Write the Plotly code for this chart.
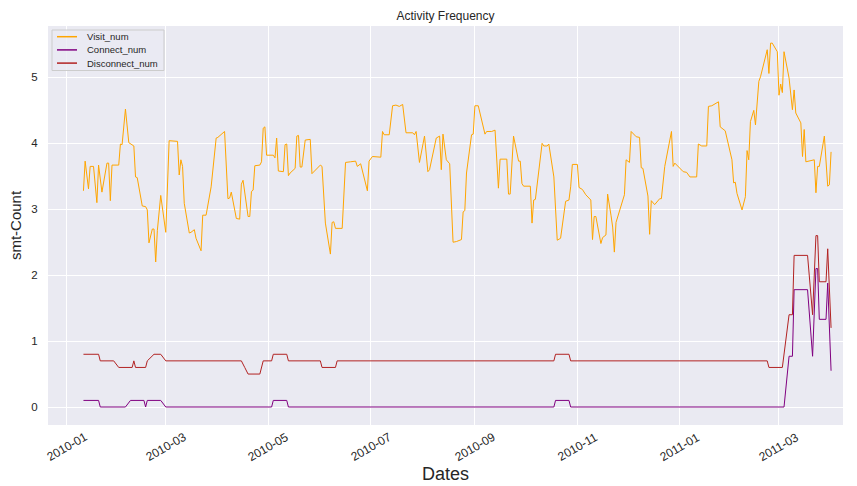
import pandas as pd
import plotly.graph_objects as go

# Day offsets (from 2010-01-01) and smoothed counts for each series
BASE_DATE = "2010-01-01"

visit_day = [10, 11, 13, 14, 16, 18, 19, 21, 24, 25, 26, 27, 31, 32, 33, 35, 37, 40, 41, 42,
             45, 47, 48, 49, 51, 52, 53, 54, 56, 59, 61, 66, 67, 68, 69, 70, 73, 74, 76, 77,
             80, 81, 83, 86, 89, 90, 94, 96, 97, 98, 101, 103, 104, 105, 108, 109, 110, 111, 112, 115,
             116, 117, 118, 119, 123, 124, 125, 126, 129, 130, 131, 132, 133, 136, 137, 138, 139, 140, 142, 145,
             146, 151, 152, 154, 157, 158, 159, 160, 164, 166, 169, 172, 173, 175, 179, 180, 182, 187, 188, 189,
             192, 194, 196, 198, 200, 202, 206, 207, 208, 210, 213, 215, 216, 220, 222, 223, 224, 226, 228, 230,
             232, 235, 236, 237, 238, 241, 242, 243, 245, 247, 249, 250, 253, 255, 257, 258, 262, 263, 264, 266,
             269, 270, 271, 272, 276, 277, 278, 279, 281, 283, 284, 286, 287, 290, 292, 294, 297, 299, 300, 301,
             304, 305, 307, 309, 312, 313, 314, 315, 318, 319, 321, 322, 324, 325, 326, 327, 332, 333, 335, 336,
             339, 341, 342, 343, 346, 347, 348, 350, 353, 354, 356, 360, 361, 362, 367, 369, 371, 375, 376, 378,
             381, 382, 384, 388, 389, 392, 396, 397, 398, 399, 402, 404, 405, 406, 407, 409, 410, 412, 413, 417,
             418, 419, 420, 423, 424, 425, 426, 427, 430, 432, 433, 434, 437, 438, 439, 440, 445, 446, 447, 448,
             451, 453, 454, 455]
visit_num = [3.28, 3.73, 3.31, 3.65, 3.65, 3.10, 3.67, 3.26, 3.70, 3.70, 3.13, 3.67, 3.67, 3.99, 3.98, 4.52, 4.01, 3.96, 3.49, 3.48,
             3.05, 3.04, 2.99, 2.49, 2.70, 2.70, 2.20, 2.68, 3.21, 2.65, 4.04, 4.03, 3.52, 3.75, 3.65, 3.09, 2.64, 2.65, 2.69, 2.56,
             2.37, 2.91, 2.91, 3.34, 4.08, 4.09, 4.18, 3.16, 3.17, 3.26, 2.86, 2.85, 3.38, 3.44, 2.89, 2.89, 3.27, 3.29, 3.66, 3.67,
             3.72, 4.23, 4.25, 3.82, 3.82, 3.78, 4.08, 3.58, 3.57, 3.98, 3.99, 3.51, 3.55, 3.62, 4.11, 4.12, 3.64, 3.64, 4.05, 4.06,
             3.54, 3.67, 3.65, 2.79, 2.32, 2.80, 2.81, 2.71, 2.71, 3.71, 3.72, 3.73, 3.65, 3.69, 3.28, 3.73, 3.80, 3.79, 4.18, 4.13,
             4.13, 4.57, 4.58, 4.56, 4.59, 4.16, 4.16, 4.13, 4.18, 3.71, 4.11, 3.57, 3.60, 4.08, 4.11, 3.60, 4.14, 3.75, 3.69, 2.50,
             2.51, 2.54, 2.96, 2.98, 3.55, 4.13, 4.14, 4.57, 4.57, 4.35, 4.14, 4.18, 4.18, 4.20, 3.32, 3.76, 3.76, 3.23, 3.23, 4.11,
             3.73, 3.73, 3.39, 3.35, 3.35, 2.79, 3.14, 3.15, 3.60, 4.00, 3.96, 3.96, 3.99, 3.49, 2.53, 2.56, 3.12, 3.14, 3.34, 3.68,
             3.68, 3.33, 3.30, 3.22, 3.14, 2.54, 2.89, 2.89, 2.48, 2.57, 2.61, 3.23, 2.91, 2.73, 2.35, 2.80, 3.22, 3.75, 3.71, 4.18,
             4.10, 4.09, 3.63, 3.62, 3.20, 2.62, 3.13, 3.07, 3.16, 3.16, 3.65, 4.18, 3.65, 3.70, 3.57, 3.56, 3.49, 3.49, 3.99, 3.96,
             3.96, 4.56, 4.57, 4.63, 4.25, 4.19, 3.75, 3.40, 3.41, 3.24, 2.99, 3.19, 3.89, 3.75, 4.33, 4.50, 4.28, 4.94, 5.01, 5.42,
             5.06, 5.52, 5.52, 5.39, 4.73, 4.90, 4.77, 5.39, 4.99, 4.51, 4.81, 4.46, 4.31, 3.80, 4.21, 3.72, 3.75, 3.25, 3.65, 3.65,
             4.11, 3.35, 3.37, 3.87]

connect_day = [10, 19, 20, 35, 38, 46, 47, 48, 56, 59, 122, 123, 131, 132, 290, 291, 299, 300,
               427, 430, 432, 433, 441, 444, 446, 447, 448, 452, 453, 455]
connect_num = [0.1, 0.1, 0.0, 0.0, 0.1, 0.1, 0.0, 0.1, 0.1, 0.0, 0.0, 0.1, 0.1, 0.0, 0.0, 0.1, 0.1, 0.0,
               0.0, 0.77, 0.77, 1.78, 1.78, 0.77, 2.1, 2.1, 1.33, 1.33, 1.88, 0.55]

disconnect_day = [10, 19, 20, 28, 31, 39, 40, 41, 47, 48, 52, 56, 59, 104, 106, 108, 115, 117, 122, 123,
                  131, 132, 151, 152, 160, 161, 290, 291, 299, 300, 417, 418, 426, 430, 432, 433, 441, 444,
                  446, 447, 448, 452, 453, 455]
disconnect_num = [0.8, 0.8, 0.7, 0.7, 0.6, 0.6, 0.7, 0.6, 0.6, 0.7, 0.8, 0.8, 0.7, 0.7, 0.6, 0.5, 0.5, 0.7, 0.7, 0.8,
                  0.8, 0.7, 0.7, 0.6, 0.6, 0.7, 0.7, 0.8, 0.8, 0.7, 0.7, 0.6, 0.6, 1.4, 1.4, 2.3, 2.3, 1.4,
                  2.6, 2.6, 1.9, 1.9, 2.4, 1.2]

x_tick_labels = ["2010-01", "2010-03", "2010-05", "2010-07", "2010-09", "2010-11", "2011-01", "2011-03"]
y_ticks = [0, 1, 2, 3, 4, 5]

series_names = ["Visit_num", "Connect_num", "Disconnect_num"]
series_colors = ["#FFA500", "#800080", "#B22222"]

TEXT = "#262626"
FONT = "Liberation Sans, Arial, sans-serif"

# Figure geometry in pixels
W, H = 857, 486
ML, MR, MT, MB = 48, 14, 26, 61
PW, PH = W - ML - MR, H - MT - MB


def to_dates(days):
    base = pd.Timestamp(BASE_DATE)
    return [base + pd.Timedelta(days=d) for d in days]


def px_x(px):
    return (px - ML) / PW


def px_y(py):
    return (H - MB - py) / PH


fig = go.Figure()
for days, vals, name, color in zip([visit_day, connect_day, disconnect_day],
                                   [visit_num, connect_num, disconnect_num],
                                   series_names, series_colors):
    fig.add_trace(go.Scatter(x=to_dates(days), y=vals, mode="lines", name=name,
                             line=dict(color=color, width=1), showlegend=False))

base = pd.Timestamp(BASE_DATE)
x_lo = base + pd.Timedelta(days=-11.1)
x_hi = base + pd.Timedelta(days=462.1)

shapes = []
annotations = []

# Legend box in the upper-left corner
shapes.append(dict(type="rect", xref="paper", yref="paper",
                   x0=px_x(52), x1=px_x(164), y0=px_y(70.5), y1=px_y(30),
                   fillcolor="rgba(234,234,242,0.8)", line=dict(color="#CCCCCC", width=1), layer="above"))
for i, (name, color) in enumerate(zip(series_names, series_colors)):
    yc = 36.7 + i * 13.2
    shapes.append(dict(type="line", xref="paper", yref="paper",
                       x0=px_x(57), x1=px_x(77), y0=px_y(yc), y1=px_y(yc),
                       line=dict(color=color, width=1.5), layer="above"))
    annotations.append(dict(text=name, xref="paper", yref="paper", x=px_x(85), y=px_y(yc),
                            xanchor="left", yanchor="middle", showarrow=False,
                            font=dict(size=9.5, color=TEXT)))

# Rotated date labels centred under each tick
for lab in x_tick_labels:
    annotations.append(dict(text=lab, xref="x", yref="paper", x=pd.Timestamp(lab + "-01"),
                            y=px_y(447), xanchor="center", yanchor="middle", textangle=-30,
                            showarrow=False, font=dict(size=12, color=TEXT)))

# x-axis title
annotations.append(dict(text="Dates", xref="paper", yref="paper", x=0.5, y=px_y(474),
                        xanchor="center", yanchor="middle", showarrow=False,
                        font=dict(size=18, color=TEXT)))

fig.update_layout(
    width=W, height=H,
    margin=dict(l=ML, r=MR, t=MT, b=MB),
    paper_bgcolor="white",
    plot_bgcolor="#EAEAF2",
    font=dict(family=FONT, color=TEXT, size=11),
    title=dict(text="Activity Frequency", x=(ML + W - MR) / 2 / W, xanchor="center",
               y=1 - 16 / H, yanchor="middle", font=dict(size=12, color=TEXT)),
    showlegend=False,
    shapes=shapes,
    annotations=annotations,
)

fig.update_xaxes(
    type="date", range=[x_lo, x_hi], automargin=False,
    tickvals=[pd.Timestamp(t + "-01") for t in x_tick_labels], showticklabels=False,
    showgrid=True, gridcolor="white", gridwidth=1, zeroline=False, showline=False,
)
fig.update_yaxes(
    range=[-0.273, 5.78], automargin=False, tickvals=y_ticks, ticktext=[str(v) for v in y_ticks],
    ticks="outside", ticklen=7, tickcolor="rgba(0,0,0,0)",
    showgrid=True, gridcolor="white", gridwidth=1, zeroline=False, showline=False,
    tickfont=dict(size=11.5, color=TEXT),
    title=dict(text="smt-Count", font=dict(size=15, color=TEXT), standoff=6),
)

fig.write_html("out.html")
